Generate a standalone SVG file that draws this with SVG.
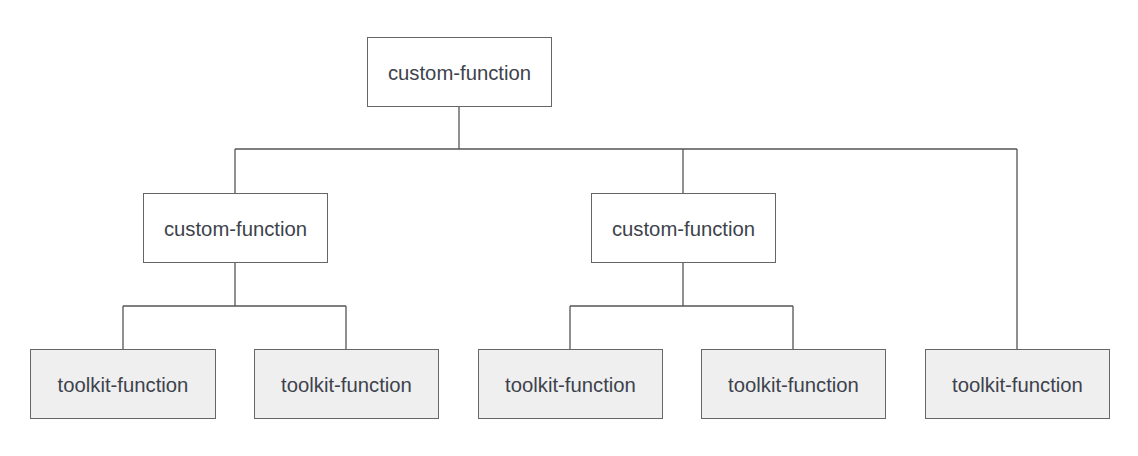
<svg xmlns="http://www.w3.org/2000/svg" width="1138" height="456" viewBox="0 0 1138 456">
<style>
.c rect{fill:#ffffff;stroke:#666;stroke-width:1}
.t rect{fill:#efefef;stroke:#666;stroke-width:1}
text{font-family:"Liberation Sans",Arial,sans-serif;font-size:20.3px;fill:#3d424c;text-anchor:middle;dominant-baseline:central}
#connectors path{fill:none;stroke:#555;stroke-width:1.3}
</style>
<rect width="1138" height="456" fill="#ffffff"/>
<g id="connectors">
<path d="M459 106V149M235 149H1017M235 149V193M683 149V193M1017 149V349"/>
<path d="M235 263V306M123 306H346M123 306V349M346 306V349"/>
<path d="M683 263V306M570 306H793M570 306V349M793 306V349"/>
</g>
<g id="n0" class="c"><rect x="367.5" y="37.5" width="184" height="69"/><text x="459.5" y="72.5">custom-function</text></g>
<g id="n1" class="c"><rect x="143.5" y="193.5" width="184" height="69"/><text x="235.5" y="228.5">custom-function</text></g>
<g id="n2" class="c"><rect x="591.5" y="193.5" width="184" height="69"/><text x="683.5" y="228.5">custom-function</text></g>
<g id="n3" class="t"><rect x="30.5" y="349.5" width="185" height="69"/><text x="123" y="384.5">toolkit-function</text></g>
<g id="n4" class="t"><rect x="254.5" y="349.5" width="184" height="69"/><text x="346.5" y="384.5">toolkit-function</text></g>
<g id="n5" class="t"><rect x="478.5" y="349.5" width="184" height="69"/><text x="570.5" y="384.5">toolkit-function</text></g>
<g id="n6" class="t"><rect x="701.5" y="349.5" width="184" height="69"/><text x="793.5" y="384.5">toolkit-function</text></g>
<g id="n7" class="t"><rect x="925.5" y="349.5" width="184" height="69"/><text x="1017.5" y="384.5">toolkit-function</text></g>
</svg>
